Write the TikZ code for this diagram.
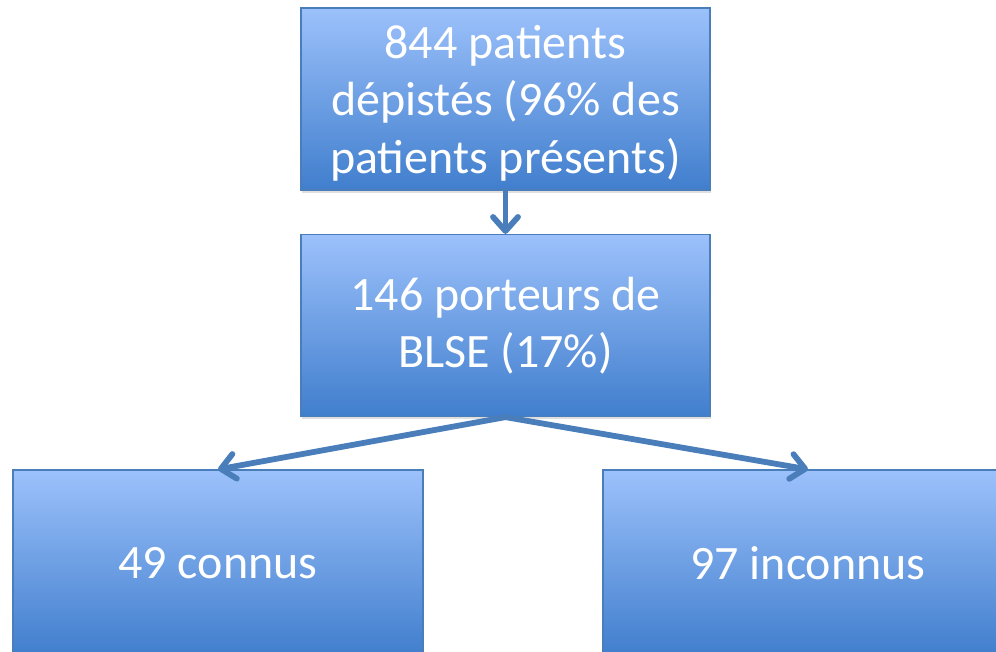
\documentclass[tikz,border=0pt]{standalone}
\usepackage{fontspec}
\setmainfont{Carlito}
\usepackage{tikz}
\usepackage{xcolor}
\usetikzlibrary{arrows.meta, positioning, shadows}
\definecolor{boxtop}{RGB}{156,193,251}
\definecolor{boxmid}{RGB}{120,164,232}
\definecolor{boxbot}{RGB}{64,126,205}
\definecolor{boxline}{RGB}{74,126,187}
\tikzstyle{bluebox}=[rectangle, draw=boxline, line width=0.7pt,
  top color=boxtop, middle color=boxmid, bottom color=boxbot,
  text=white, align=center, font=\fontsize{27.3}{32.7}\selectfont,
  minimum width=8.18cm, minimum height=3.64cm, inner sep=0pt,
  drop shadow={opacity=0.25, shadow xshift=0.6pt, shadow yshift=-1.6pt}]
\tikzstyle{barr}=[-{Straight Barb[length=0.28cm, width=0.5cm, round]},
  line width=3.3pt, color=boxline, line cap=round]

\begin{document}
\begin{tikzpicture}
    \useasboundingbox (0,0) rectangle (19.92,-13.02);
    \clip (0,0) rectangle (19.92,-13.02);
    \node[bluebox] (screened) at (10.11,-1.98)
      {\rule{0pt}{0.82cm}844 patients\\dépistés (96\% des\\patients présents)};
    \node[bluebox] (carriers) at (10.11,-6.51)
      {146 porteurs de\\BLSE (17\%)};
    \node[bluebox, minimum width=8.2cm, minimum height=3.72cm]
      (known) at (4.36,-11.26) {49 connus};
    \node[bluebox, minimum width=8.2cm, minimum height=3.72cm]
      (unknown) at (16.16,-11.26) {97 inconnus};
    \draw[barr] (screened.south) -- (carriers.north);
    \draw[barr] (carriers.south) -- (known.north);
    \draw[barr] (carriers.south) -- (unknown.north);
  \end{tikzpicture}
\end{document}
